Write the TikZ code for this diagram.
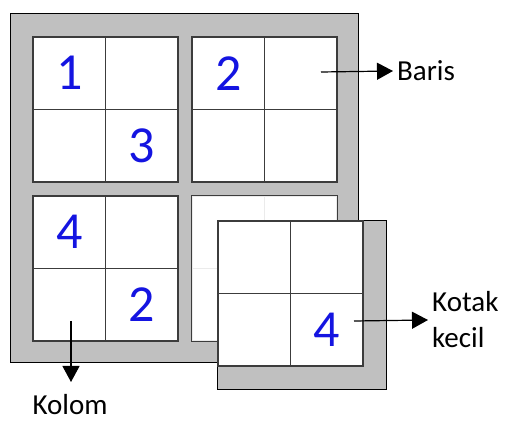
\documentclass[tikz,border=0pt]{standalone}
\usepackage{fontspec}
\setmainfont{Carlito}
\usepackage{xcolor}
\usetikzlibrary{arrows.meta,positioning}

\definecolor{framegray}{RGB}{192,192,192}
\definecolor{gridgray}{RGB}{60,60,60}
\definecolor{digitblue}{RGB}{20,20,225}

\begin{document}
\begin{tikzpicture}[x=1pt, y=1pt,
  frame/.style={draw=black, line width=0.8pt, fill=framegray},
  cell/.style={draw=gridgray, line width=1.3pt, fill=white,
    minimum size=72.5pt, inner sep=0pt},
  faintcell/.style={cell, draw=black!8},
  digit/.style={font=\fontsize{52}{52}\selectfont, text=digitblue, inner sep=0pt},
  lbl/.style={font=\fontsize{29}{36}\selectfont, align=left, inner sep=4pt},
  arr/.style={-{Triangle[length=16pt, width=17pt]}, line width=1.2pt},
]
  \useasboundingbox (0,0) rectangle (509,423);

  % big board
  \node[frame, minimum width=348pt, minimum height=349pt, anchor=north west]
    (board) at (10,410) {};
  \foreach \blk/\bx/\by in {a/69.25/349.75, b/228.25/349.75, c/69.25/190.75} {
    \foreach \r in {0,1}
      \foreach \c in {0,1}
        \node[cell] (\blk\r\c) at (\bx+72.5*\c, \by-72.5*\r) {};
  }
  % block under the small box
  \foreach \r in {0,1}
    \foreach \c in {0,1}
      \node[faintcell] (d\r\c) at (228.25+72.5*\c, 190.75-72.5*\r) {};
  \draw[draw=gridgray, line width=1.3pt] (d00.north west) rectangle (d11.south east);

  \node[digit] (n1) at (a00) {1};
  \node[digit] (n3) at (a11) {3};
  \node[digit] (n2) at (b00) {2};
  \node[digit] (n4) at (c00) {4};
  \node[digit] (n2b) at (c11) {2};

  % small box
  \node[frame, minimum width=169pt, minimum height=169pt, anchor=north west]
    (small) at (217,203) {};
  \foreach \r in {0,1}
    \foreach \c in {0,1}
      \node[cell] (s\r\c) at (254.25+72.5*\c, 165.75-72.5*\r) {};
  \node[digit] (n4b) at (s11) {4};

  % labels
  \coordinate (barisfrom) at (321,351);
  \node[lbl, anchor=west] (baris) at (393,352) {Baris};
  \draw[arr] (barisfrom) -- (baris.west);

  \coordinate (kolomfrom) at (71,102);
  \coordinate (kolomto) at (71,41);
  \node[lbl, anchor=base] (kolom) at (70,8) {Kolom};
  \draw[arr] (kolomfrom) -- (kolomto);

  \coordinate (kotakfrom) at (354,102);
  \node[lbl, anchor=west] (kotak) at (428,103) {Kotak\\kecil};
  \draw[arr] (kotakfrom) -- (kotak.west);
\end{tikzpicture}
\end{document}
